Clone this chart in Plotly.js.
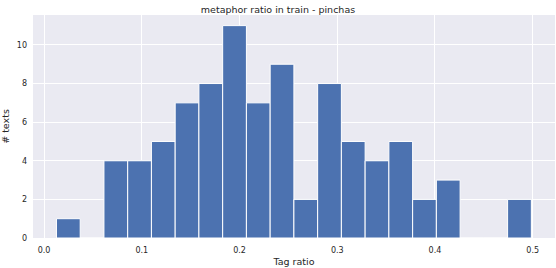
<!DOCTYPE html>
<html>
<head>
<meta charset="utf-8">
<script src="https://cdn.plot.ly/plotly-3.0.1.min.js"></script>
<style>html,body{margin:0;padding:0;background:#fff;}#chart{width:556px;height:268px;}</style>
</head>
<body>
<div id="chart"></div>
<script>
// Histogram data
const binMin = 0.0127;
const binMax = 0.4986;
const counts = [1, 0, 4, 4, 5, 7, 8, 11, 7, 9, 2, 8, 5, 4, 5, 2, 3, 0, 0, 2];
const xTickVals = [0.0, 0.1, 0.2, 0.3, 0.4, 0.5];
const xTickText = ['0.0', '0.1', '0.2', '0.3', '0.4', '0.5'];
const yTickVals = [0, 2, 4, 6, 8, 10];
const yTickText = ['0', '2', '4', '6', '8', '10'];

const nBins = counts.length;
const binWidth = (binMax - binMin) / nBins;
const centers = counts.map((_, i) => binMin + binWidth * (i + 0.5));

const font = 'DejaVu Sans, sans-serif';
const trace = {
  type: 'bar',
  x: centers,
  y: counts,
  width: binWidth,
  marker: {color: '#4c72b0', line: {color: '#ffffff', width: 1}},
  hoverinfo: 'x+y'
};

const layout = {
  width: 556, height: 268,
  margin: {l: 33, r: 1, t: 15, b: 30},
  paper_bgcolor: '#ffffff',
  plot_bgcolor: '#eaeaf2',
  showlegend: false,
  bargap: 0,
  title: {text: 'metaphor ratio in train - pinchas', font: {family: font, size: 9.5, color: '#262626'}, x: 0.5, xanchor: 'center', y: 0.975, yanchor: 'top', yref: 'container'},
  xaxis: {
    range: [-0.0113, 0.5228],
    tickmode: 'array', tickvals: xTickVals, ticktext: xTickText,
    showgrid: true, gridcolor: '#ffffff', gridwidth: 1,
    zeroline: false, showline: false, ticks: '',
    ticklabelstandoff: 6,
    tickfont: {family: font, size: 8, color: '#262626'},
    title: {text: 'Tag ratio', font: {family: font, size: 9.5, color: '#262626'}, standoff: 4}
  },
  yaxis: {
    range: [0, 11.55],
    tickmode: 'array', tickvals: yTickVals, ticktext: yTickText,
    showgrid: true, gridcolor: '#ffffff', gridwidth: 1,
    zeroline: false, showline: false, ticks: '',
    ticklabelstandoff: 5,
    tickfont: {family: font, size: 8, color: '#262626'},
    title: {text: '# texts', font: {family: font, size: 9.5, color: '#262626'}, standoff: 5}
  }
};

Plotly.newPlot('chart', [trace], layout, {displayModeBar: false, staticPlot: true});
</script>
</body>
</html>
